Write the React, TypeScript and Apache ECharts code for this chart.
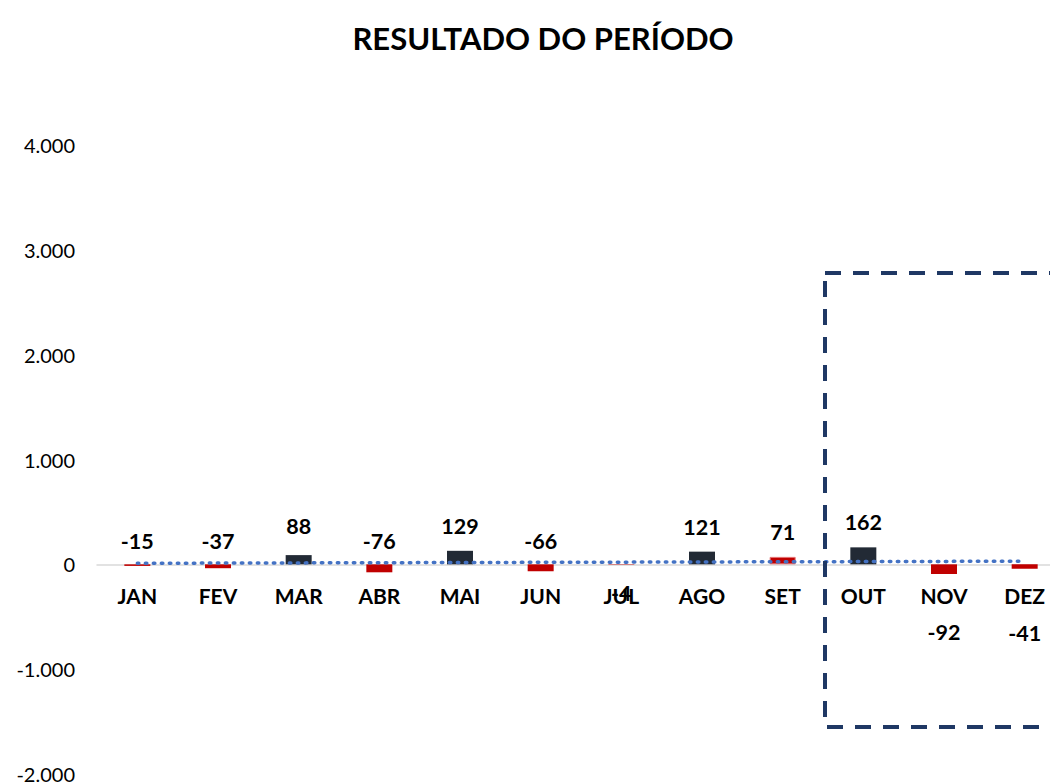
import React, { useEffect, useRef } from "react";
import * as echarts from "echarts";

const TITLE = "RESULTADO DO PERÍODO";
const MONTHS = ["JAN", "FEV", "MAR", "ABR", "MAI", "JUN", "JUL", "AGO", "SET", "OUT", "NOV", "DEZ"];
const RESULTS = [-15, -37, 88, -76, 129, -66, -4, 121, 71, 162, -92, -41];
// bar colour group per month: "pos" = dark, "neg" = red
const COLOR_GROUP = ["neg", "neg", "pos", "neg", "pos", "neg", "neg", "pos", "neg", "pos", "neg", "neg"];
const Y_MIN = -2000;
const Y_MAX = 4000;
const Y_STEP = 1000;

const DARK = "#222A35";
const RED = "#C00000";
const FONT = "Lato, 'Open Sans', sans-serif";

const GRID_TOP = 145;
const GRID_HEIGHT = 629;

function fmtThousands(v: number): string {
  const s = Math.abs(v).toString().replace(/\B(?=(\d{3})+(?!\d))/g, ".");
  return (v < 0 ? "-" : "") + s;
}

// linear trend line (least squares) over the monthly results
function trend(values: number[]): number[] {
  const n = values.length;
  const xs = values.map((_, i) => i + 1);
  const mx = xs.reduce((a, b) => a + b, 0) / n;
  const my = values.reduce((a, b) => a + b, 0) / n;
  let sxy = 0;
  let sxx = 0;
  xs.forEach((x, i) => {
    sxy += (x - mx) * (values[i] - my);
    sxx += (x - mx) * (x - mx);
  });
  const slope = sxy / sxx;
  return xs.map((x) => my + slope * (x - mx));
}

// label placement styles (per month index)
const LABEL_STYLE: Record<number, { position: string; distance: number }> = {
  2: { position: "top", distance: 18 },
  6: { position: "bottom", distance: 17 },
  10: { position: "bottom", distance: 47 },
  11: { position: "bottom", distance: 53 },
};

export default function App() {
  const ref = useRef<HTMLDivElement>(null);

  useEffect(() => {
    if (!ref.current) return;
    const chart = echarts.init(ref.current, undefined, { renderer: "svg" });

    const barData = RESULTS.map((v, i) => {
      const ls = LABEL_STYLE[i] || { position: "top", distance: v >= 0 ? 14 : 12 };
      const isPos = COLOR_GROUP[i] === "pos";
      return {
        value: v,
        itemStyle: {
          color: isPos ? DARK : RED,
          borderColor: isPos ? DARK : i === 8 ? "#E57373" : RED,
          borderWidth: i === 8 ? 1 : 0,
        },
        label: { position: ls.position, distance: ls.distance },
      };
    });

    // move the category axis up to the zero line
    const zeroOffset = -((0 - Y_MIN) / (Y_MAX - Y_MIN)) * GRID_HEIGHT;

    const option: any = {
      animation: false,
      backgroundColor: "#ffffff",
      title: {
        text: TITLE,
        left: 538,
        top: 17,
        textAlign: "center",
        textStyle: { fontFamily: FONT, fontWeight: "bold", fontSize: 31, color: "#000" },
      },
      grid: {
        left: 97,
        top: GRID_TOP,
        width: 968,
        height: GRID_HEIGHT,
        containLabel: false,
        outerBoundsMode: "none",
      },
      xAxis: {
        type: "category",
        data: MONTHS,
        position: "bottom",
        offset: zeroOffset,
        axisLine: { onZero: false, lineStyle: { color: "#D9D9D9", width: 1.5 } },
        axisTick: { show: false },
        axisLabel: {
          margin: 21,
          fontFamily: FONT,
          fontWeight: "bold",
          fontSize: 21,
          color: "#000",
        },
        splitLine: { show: false },
      },
      yAxis: {
        type: "value",
        min: Y_MIN,
        max: Y_MAX,
        interval: Y_STEP,
        axisLine: { show: false },
        axisTick: { show: false },
        splitLine: { show: false },
        axisLabel: {
          margin: 22,
          fontFamily: FONT,
          fontSize: 20,
          color: "#000",
          formatter: (v: number) => fmtThousands(v),
        },
      },
      series: [
        {
          type: "bar",
          data: barData,
          barWidth: 26,
          label: {
            show: true,
            fontFamily: FONT,
            fontWeight: "bold",
            fontSize: 21.5,
            color: "#000",
            formatter: (p: any) => String(p.value),
          },
          z: 2,
        },
        {
          type: "line",
          data: trend(RESULTS),
          symbol: "none",
          lineStyle: { color: "#4472C4", width: 3.5, type: [1.5, 6.5], cap: "round" },
          z: 3,
        },
      ],
      graphic: [
        {
          type: "rect",
          shape: { x: 825, y: 273, width: 300, height: 454 },
          style: { fill: "none", stroke: "#1F3864", lineWidth: 4, lineDash: [16, 12] },
          z: 10,
        },
      ],
    };

    chart.setOption(option);
    return () => chart.dispose();
  }, []);

  return (
    <div
      ref={ref}
      style={{ position: "absolute", left: 0, top: 0, width: 1050, height: 784 }}
    />
  );
}
